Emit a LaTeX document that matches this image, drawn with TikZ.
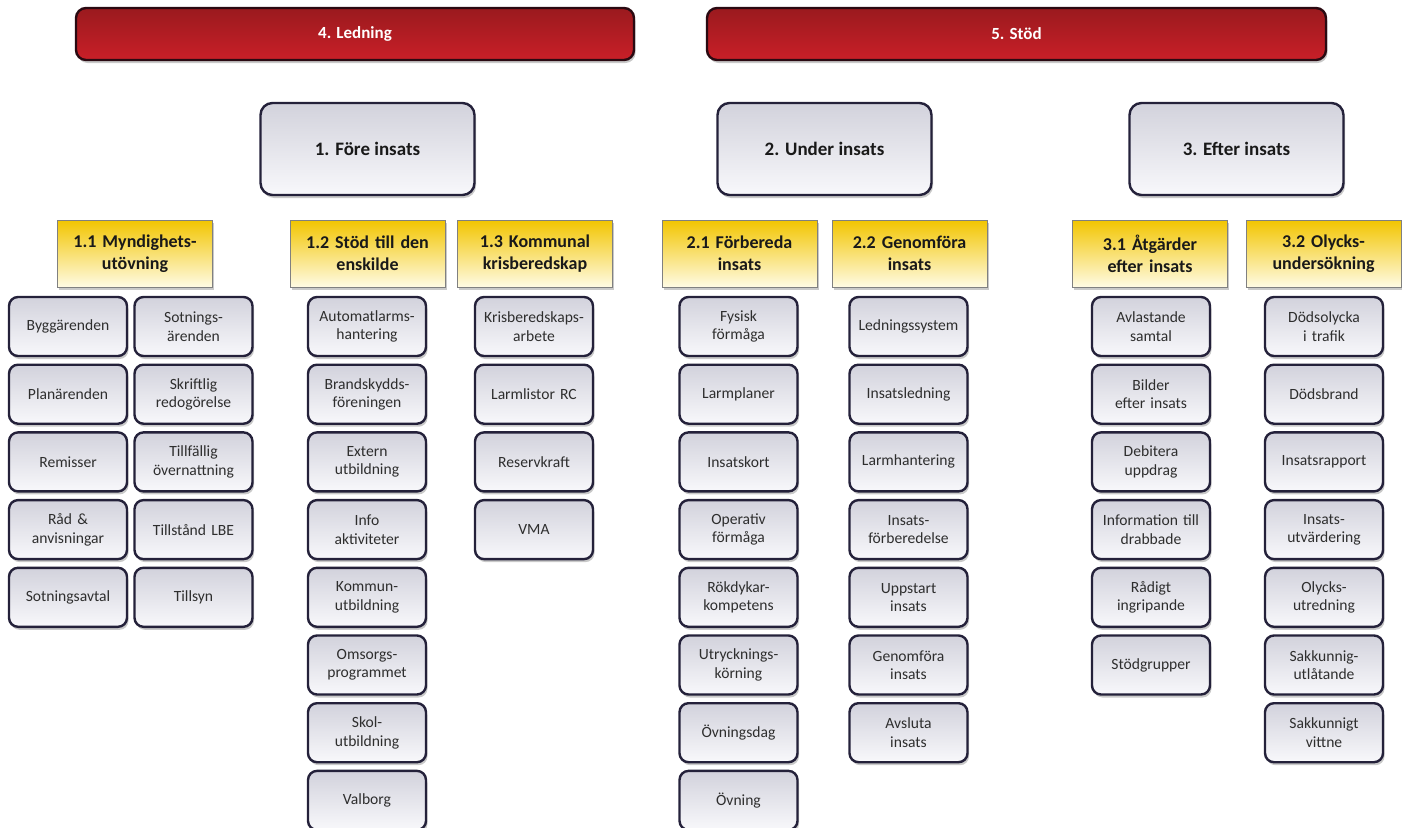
\documentclass[tikz,border=0pt]{standalone}
\usepackage{fontspec}
\setmainfont{Carlito}
\usetikzlibrary{shadows}
\definecolor{boxline}{HTML}{24213A}
\definecolor{boxtop}{HTML}{D2D2DC}
\definecolor{boxbot}{HTML}{F8F8FB}
\definecolor{yeltop}{HTML}{F2C500}
\definecolor{yelbot}{HTML}{FFFBE4}
\definecolor{redtop}{HTML}{9A1A1E}
\definecolor{redbot}{HTML}{C91F28}
\definecolor{redline}{HTML}{2A0A12}
\definecolor{txtgray}{HTML}{2E2E2E}
\tikzset{
  shade/.style={drop shadow={shadow xshift=1.5pt,shadow yshift=-3pt,opacity=0.3,fill=black!70}},
  smallbox/.style={shade,draw=boxline,line width=2.4pt,rounded corners=9pt,
    top color=boxtop,bottom color=boxbot,minimum width=118pt,minimum height=59pt,
    text width=116pt,align=center,inner sep=0pt,text=txtgray,
    font=\fontsize{15.6}{18.5}\selectfont},
  bigbox/.style={shade,draw=boxline,line width=2.4pt,rounded corners=12pt,
    top color=boxtop,bottom color=boxbot,minimum width=214pt,minimum height=92pt,
    align=center,inner sep=0pt,text=black!90,
    font=\fontsize{19}{23}\selectfont\bfseries},
  header/.style={shade,draw=black!50,line width=0.8pt,
    top color=yeltop,bottom color=yelbot,minimum width=155pt,minimum height=67pt,
    text width=150pt,align=center,inner sep=0pt,text=black!90,
    font=\fontsize{18}{22}\selectfont\bfseries},
  banner/.style={shade,draw=redline,line width=2.4pt,rounded corners=10pt,
    top color=redtop,bottom color=redbot,minimum height=52pt,
    align=center,inner sep=0pt,text=white,
    font=\fontsize{17}{20}\selectfont\bfseries},
}
\begin{document}
\begin{tikzpicture}[x=1pt,y=-1pt]
\useasboundingbox (0,0) rectangle (1402,827);
\clip (0,0) rectangle (1402,827);
% banners
\node[banner,minimum width=558pt] (ledning) at (355,34) {4. Ledning};
\node[banner,minimum width=619pt] (stod) at (1016.5,34) {5. Stöd};
% level 1
\node[bigbox] (fore) at (367.5,149) {1. Före insats};
\node[bigbox] (under) at (824.5,149) {2. Under insats};
\node[bigbox] (efter) at (1236.5,149) {3. Efter insats};
% headers
\node[header] (h11) at (135,253.5) {1.1 Myndighets-\\utövning};
\node[header] (h12) at (367.5,253.5) {1.2 Stöd till den\\enskilde};
\node[header] (h13) at (535,253.5) {1.3 Kommunal\\krisberedskap};
\node[header] (h21) at (739.5,253.5) {2.1 Förbereda\\insats};
\node[header] (h22) at (909.5,253.5) {2.2 Genomföra\\insats};
\node[header] (h31) at (1150,253.5) {3.1 Åtgärder\\efter insats};
\node[header] (h32) at (1323.5,253.5) {3.2 Olycks-\\undersökning};
% 1.1 column a
\node[smallbox] (a1) at (68,326.5) {Byggärenden};
\node[smallbox] (a2) at (68,394.2) {Planärenden};
\node[smallbox] (a3) at (68,461.9) {Remisser};
\node[smallbox] (a4) at (68,529.6) {Råd \&\\anvisningar};
\node[smallbox] (a5) at (68,597.3) {Sotningsavtal};
% 1.1 column b
\node[smallbox] (b1) at (193.5,326.5) {Sotnings-\\ärenden};
\node[smallbox] (b2) at (193.5,394.2) {Skriftlig\\redogörelse};
\node[smallbox] (b3) at (193.5,461.9) {Tillfällig\\övernattning};
\node[smallbox] (b4) at (193.5,529.6) {Tillstånd LBE};
\node[smallbox] (b5) at (193.5,597.3) {Tillsyn};
% 1.2
\node[smallbox] (c1) at (367,326.5) {Automatlarms-\\hantering};
\node[smallbox] (c2) at (367,394.2) {Brandskydds-\\föreningen};
\node[smallbox] (c3) at (367,461.9) {Extern\\utbildning};
\node[smallbox] (c4) at (367,529.6) {Info\\aktiviteter};
\node[smallbox] (c5) at (367,597.3) {Kommun-\\utbildning};
\node[smallbox] (c6) at (367,665) {Omsorgs-\\programmet};
\node[smallbox] (c7) at (367,732.7) {Skol-\\utbildning};
\node[smallbox] (c8) at (367,800.4) {Valborg};
% 1.3
\node[smallbox] (d1) at (534,326.5) {Krisberedskaps-\\arbete};
\node[smallbox] (d2) at (534,394.2) {Larmlistor RC};
\node[smallbox] (d3) at (534,461.9) {Reservkraft};
\node[smallbox] (d4) at (534,529.6) {VMA};
% 2.1
\node[smallbox] (e1) at (738.5,326.5) {Fysisk\\förmåga};
\node[smallbox] (e2) at (738.5,394.2) {Larmplaner};
\node[smallbox] (e3) at (738.5,461.9) {Insatskort};
\node[smallbox] (e4) at (738.5,529.6) {Operativ\\förmåga};
\node[smallbox] (e5) at (738.5,597.3) {Rökdykar-\\kompetens};
\node[smallbox] (e6) at (738.5,665) {Utrycknings-\\körning};
\node[smallbox] (e7) at (738.5,732.7) {Övningsdag};
\node[smallbox] (e8) at (738.5,800.4) {Övning};
% 2.2
\node[smallbox] (f1) at (908.5,326.5) {Ledningssystem};
\node[smallbox] (f2) at (908.5,394.2) {Insatsledning};
\node[smallbox] (f3) at (908.5,461.9) {Larmhantering};
\node[smallbox] (f4) at (908.5,529.6) {Insats-\\förberedelse};
\node[smallbox] (f5) at (908.5,597.3) {Uppstart\\insats};
\node[smallbox] (f6) at (908.5,665) {Genomföra\\insats};
\node[smallbox] (f7) at (908.5,732.7) {Avsluta\\insats};
% 3.1
\node[smallbox] (g1) at (1151,326.5) {Avlastande\\samtal};
\node[smallbox] (g2) at (1151,394.2) {Bilder\\efter insats};
\node[smallbox] (g3) at (1151,461.9) {Debitera\\uppdrag};
\node[smallbox] (g4) at (1151,529.6) {Information till\\drabbade};
\node[smallbox] (g5) at (1151,597.3) {Rådigt\\ingripande};
\node[smallbox] (g6) at (1151,665) {Stödgrupper};
% 3.2
\node[smallbox] (k1) at (1324,326.5) {Dödsolycka\\i trafik};
\node[smallbox] (k2) at (1324,394.2) {Dödsbrand};
\node[smallbox] (k3) at (1324,461.9) {Insatsrapport};
\node[smallbox] (k4) at (1324,529.6) {Insats-\\utvärdering};
\node[smallbox] (k5) at (1324,597.3) {Olycks-\\utredning};
\node[smallbox] (k6) at (1324,665) {Sakkunnig-\\utlåtande};
\node[smallbox] (k7) at (1324,732.7) {Sakkunnigt\\vittne};
\end{tikzpicture}
\end{document}
